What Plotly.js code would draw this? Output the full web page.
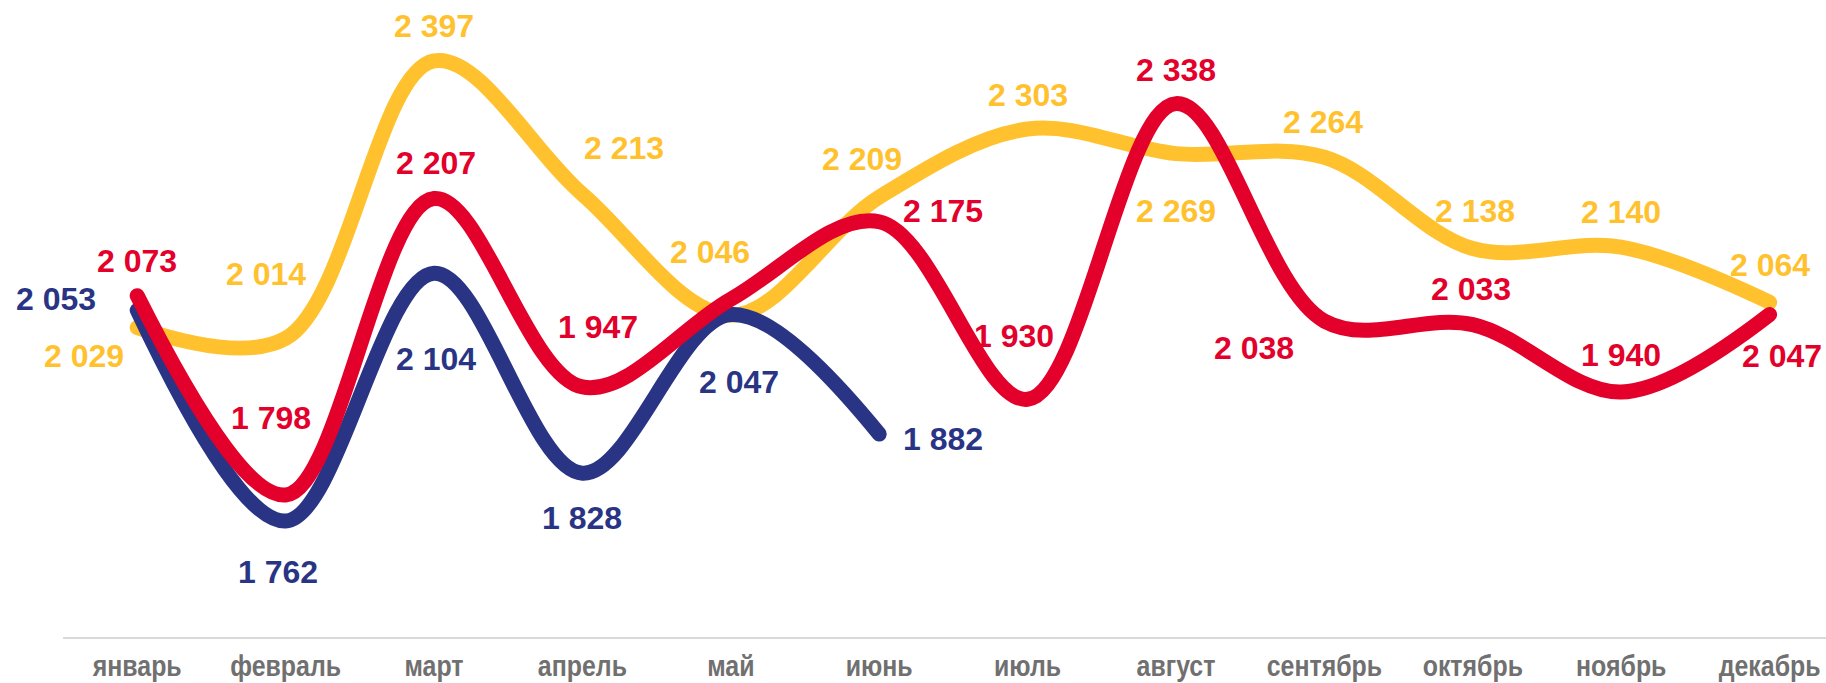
<!DOCTYPE html>
<html>
<head>
<meta charset="utf-8">
<script src="https://cdn.plot.ly/plotly-3.0.1.min.js"></script>
<style>
  html, body { margin: 0; padding: 0; background: #fff; }
  #chart { width: 1826px; height: 683px; }
  .js-line { stroke-linecap: round; }
</style>
</head>
<body>
<div id="chart"></div>
<script>
// ---- data ----
const months = ["январь", "февраль", "март", "апрель", "май", "июнь", "июль", "август", "сентябрь", "октябрь", "ноябрь", "декабрь"];
const yellowValues = [2029, 2014, 2397, 2213, 2046, 2209, 2303, 2269, 2264, 2138, 2140, 2064];
const redValues    = [2073, 1798, 2207, 1947, 2068, 2175, 1930, 2338, 2038, 2033, 1940, 2047];
const blueValues   = [2053, 1762, 2104, 1828, 2047, 1882, null, null, null, null, null, null];
const redLabelShown = [true, true, true, true, false, true, true, true, true, true, true, true];

// ---- label offsets (pixels, styling only) ----
const yellowShift = [[-53,-28],[-20,64],[0,35],[42,46],[-21,63],[-17,38],[0,34],[0,-57],[-1,35],[2,38],[0,35],[0,37]];
const redShift    = [[0,35],[-15,77],[2,36],[16,60],[0,0],[64,11],[-14,63],[0,34],[-70,-27],[-2,36],[0,37],[12,-41]];
const blueShift   = [[-81,11],[-8,-51],[2,-86],[0,-45],[8,-67],[64,-5]];

const YELLOW = "#FFC22E", RED = "#E3002B", BLUE = "#293584";

function fmt(v) {
  const s = String(v);
  return s.length > 3 ? s.slice(0, s.length - 3) + " " + s.slice(-3) : s;
}

function lineTrace(vals, color) {
  return {
    type: "scatter", mode: "lines",
    x: months.map((m, i) => i), y: vals,
    line: { color: color, width: 15, shape: "spline", smoothing: 1 },
    connectgaps: false, hoverinfo: "skip", showlegend: false, cliponaxis: false
  };
}

const annotations = [];
function addLabels(vals, shifts, color, shown) {
  vals.forEach((v, i) => {
    if (v === null || v === undefined) return;
    if (shown && !shown[i]) return;
    annotations.push({
      x: i, y: v, xref: "x", yref: "y",
      text: fmt(v), showarrow: false,
      xanchor: "center", yanchor: "middle",
      xshift: shifts[i][0], yshift: shifts[i][1],
      font: { family: "Liberation Sans, Arial, sans-serif", size: 32, color: color, weight: "bold" }
    });
  });
}
addLabels(yellowValues, yellowShift, YELLOW);
addLabels(redValues, redShift, RED, redLabelShown);
addLabels(blueValues, blueShift, BLUE);

const data = [
  lineTrace(yellowValues, YELLOW),
  lineTrace(blueValues, BLUE),
  lineTrace(redValues, RED)
];

const layout = {
  width: 1826, height: 683,
  margin: { l: 63, r: 0, t: 0, b: 46, pad: 0 },
  paper_bgcolor: "#ffffff", plot_bgcolor: "#ffffff",
  showlegend: false,
  xaxis: {
    type: "linear",
    range: [-0.5, 11.38],
    tickmode: "array",
    tickvals: months.map((m, i) => i),
    ticktext: months,
    ticklabeloverflow: "allow",
    ticklabelstandoff: 1,
    showgrid: false, zeroline: false,
    showline: true, linecolor: "#d9d9d9", linewidth: 2,
    ticks: "",
    tickfont: { family: "Liberation Sans, Arial, sans-serif", size: 30, color: "#707070", weight: "bold" },
    fixedrange: true
  },
  yaxis: {
    range: [1602, 2481],
    visible: false, showgrid: false, zeroline: false,
    fixedrange: true
  },
  annotations: annotations
};

Plotly.newPlot("chart", data, layout, { displayModeBar: false, staticPlot: true }).then(function (gd) {
  // narrow the month labels to mimic a condensed bold face
  gd.querySelectorAll(".xtick text").forEach(function (t) {
    const w = t.getComputedTextLength();
    t.setAttribute("textLength", (w * 0.83).toFixed(1));
    t.setAttribute("lengthAdjust", "spacingAndGlyphs");
  });
});
</script>
</body>
</html>
